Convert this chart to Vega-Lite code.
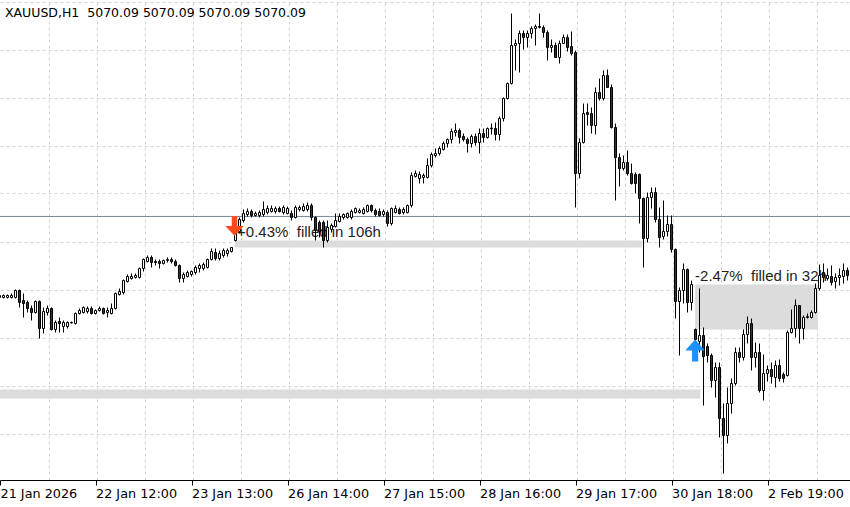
{
  "$schema": "https://vega.github.io/schema/vega-lite/v6.json",
  "width": 850,
  "height": 480,
  "autosize": "none",
  "padding": {"left": 0, "top": 0, "right": 0, "bottom": 27},
  "background": "#ffffff",
  "config": {"view": {"stroke": null}},
  "title": {"text": "XAUUSD,H1\u00a0 5070.09 5070.09 5070.09 5070.09", "anchor": "start", "frame": "group", "orient": "top", "offset": -16, "baseline": "alphabetic", "dx": 5, "dy": 13, "font": "DejaVu Sans", "fontSize": 12.5, "fontWeight": "normal", "color": "#000000"},
  "datasets": {
    "bars": [
      {"i":-1,"o":4867.5,"h":4875,"l":4865,"c":4872.5},
      {"i":0,"o":4867.5,"h":4875,"l":4865,"c":4872.5},
      {"i":1,"o":4867.5,"h":4875,"l":4865,"c":4872.5},
      {"i":2,"o":4867.5,"h":4877.5,"l":4865,"c":4872.5},
      {"i":3,"o":4867.5,"h":4887.5,"l":4865,"c":4885},
      {"i":4,"o":4885,"h":4887.5,"l":4842.5,"c":4855},
      {"i":5,"o":4860,"h":4877.5,"l":4817.5,"c":4852.5},
      {"i":6,"o":4855,"h":4860,"l":4830,"c":4840},
      {"i":7,"o":4840,"h":4847.5,"l":4810,"c":4830},
      {"i":8,"o":4830,"h":4860,"l":4827.5,"c":4857.5},
      {"i":9,"o":4857.5,"h":4860,"l":4765,"c":4790},
      {"i":10,"o":4790,"h":4842.5,"l":4777.5,"c":4832.5},
      {"i":11,"o":4830,"h":4847.5,"l":4822.5,"c":4840},
      {"i":12,"o":4840,"h":4842.5,"l":4785,"c":4787.5},
      {"i":13,"o":4787.5,"h":4810,"l":4780,"c":4805},
      {"i":14,"o":4807.5,"h":4817.5,"l":4780,"c":4802.5},
      {"i":15,"o":4795,"h":4810,"l":4780,"c":4805},
      {"i":16,"o":4795,"h":4807.5,"l":4790,"c":4805},
      {"i":17,"o":4805,"h":4807.5,"l":4802.5,"c":4804},
      {"i":18,"o":4802.5,"h":4830,"l":4800,"c":4827.5},
      {"i":19,"o":4827.5,"h":4840,"l":4825,"c":4835},
      {"i":20,"o":4830,"h":4845,"l":4827.5,"c":4842.5},
      {"i":21,"o":4832.5,"h":4845,"l":4827.5,"c":4840},
      {"i":22,"o":4840,"h":4845,"l":4825,"c":4827.5},
      {"i":23,"o":4827.5,"h":4837.5,"l":4825,"c":4835},
      {"i":24,"o":4835,"h":4845,"l":4832.5,"c":4840},
      {"i":25,"o":4840,"h":4842.5,"l":4825,"c":4827.5},
      {"i":26,"o":4830,"h":4842.5,"l":4817.5,"c":4835},
      {"i":27,"o":4827.5,"h":4852.5,"l":4825,"c":4840},
      {"i":28,"o":4840,"h":4880,"l":4837.5,"c":4877.5},
      {"i":29,"o":4875,"h":4890,"l":4872.5,"c":4882.5},
      {"i":30,"o":4880,"h":4912.5,"l":4875,"c":4910},
      {"i":31,"o":4907.5,"h":4925,"l":4905,"c":4920},
      {"i":32,"o":4915,"h":4927.5,"l":4912.5,"c":4920},
      {"i":33,"o":4917.5,"h":4927.5,"l":4915,"c":4922.5},
      {"i":34,"o":4917.5,"h":4942.5,"l":4915,"c":4940},
      {"i":35,"o":4940,"h":4965,"l":4932.5,"c":4962.5},
      {"i":36,"o":4957.5,"h":4972.5,"l":4955,"c":4967.5},
      {"i":37,"o":4967.5,"h":4972.5,"l":4942.5,"c":4955},
      {"i":38,"o":4957.5,"h":4962.5,"l":4947.5,"c":4955},
      {"i":39,"o":4957.5,"h":4962.5,"l":4940,"c":4952.5},
      {"i":40,"o":4952.5,"h":4962.5,"l":4950,"c":4960},
      {"i":41,"o":4960,"h":4967.5,"l":4955,"c":4962.5},
      {"i":42,"o":4962.5,"h":4967.5,"l":4952.5,"c":4957.5},
      {"i":43,"o":4957.5,"h":4962.5,"l":4945,"c":4947.5},
      {"i":44,"o":4947.5,"h":4950,"l":4905,"c":4915},
      {"i":45,"o":4915,"h":4930,"l":4905,"c":4925},
      {"i":46,"o":4920,"h":4935,"l":4917.5,"c":4930},
      {"i":47,"o":4925,"h":4935,"l":4920,"c":4932.5},
      {"i":48,"o":4930,"h":4947.5,"l":4925,"c":4942.5},
      {"i":49,"o":4940,"h":4952.5,"l":4930,"c":4947.5},
      {"i":50,"o":4940,"h":4955,"l":4935,"c":4950},
      {"i":51,"o":4942.5,"h":4965,"l":4940,"c":4962.5},
      {"i":52,"o":4962.5,"h":4990,"l":4960,"c":4982.5},
      {"i":53,"o":4980,"h":4990,"l":4960,"c":4965},
      {"i":54,"o":4965,"h":4985,"l":4960,"c":4977.5},
      {"i":55,"o":4972.5,"h":4990,"l":4967.5,"c":4985},
      {"i":56,"o":4977.5,"h":4990,"l":4970,"c":4985},
      {"i":57,"o":4982.5,"h":4992.5,"l":4980,"c":4992.5},
      {"i":58,"o":5010,"h":5035,"l":5007.5,"c":5030},
      {"i":59,"o":5032.5,"h":5067.5,"l":5027.5,"c":5062.5},
      {"i":60,"o":5060,"h":5087.5,"l":5055,"c":5077.5},
      {"i":61,"o":5075,"h":5090,"l":5070,"c":5082.5},
      {"i":62,"o":5082.5,"h":5087.5,"l":5067.5,"c":5072.5},
      {"i":63,"o":5072.5,"h":5082.5,"l":5070,"c":5077.5},
      {"i":64,"o":5072.5,"h":5085,"l":5067.5,"c":5080},
      {"i":65,"o":5075,"h":5107.5,"l":5070,"c":5087.5},
      {"i":66,"o":5080,"h":5097.5,"l":5075,"c":5090},
      {"i":67,"o":5082.5,"h":5097.5,"l":5080,"c":5090},
      {"i":68,"o":5082.5,"h":5095,"l":5077.5,"c":5090},
      {"i":69,"o":5090,"h":5095,"l":5080,"c":5082.5},
      {"i":70,"o":5080,"h":5097.5,"l":5075,"c":5092.5},
      {"i":71,"o":5077.5,"h":5095,"l":5075,"c":5090},
      {"i":72,"o":5077.5,"h":5085,"l":5060,"c":5067.5},
      {"i":73,"o":5067.5,"h":5097.5,"l":5065,"c":5092.5},
      {"i":74,"o":5087.5,"h":5097.5,"l":5082.5,"c":5092.5},
      {"i":75,"o":5085,"h":5102.5,"l":5082.5,"c":5095},
      {"i":76,"o":5087.5,"h":5105,"l":5082.5,"c":5097.5},
      {"i":77,"o":5097.5,"h":5102.5,"l":5060,"c":5067.5},
      {"i":78,"o":5067.5,"h":5070,"l":5010,"c":5035},
      {"i":79,"o":5055,"h":5060,"l":5017.5,"c":5032.5},
      {"i":80,"o":5055,"h":5060,"l":4992.5,"c":5010},
      {"i":81,"o":5010,"h":5060,"l":5005,"c":5042.5},
      {"i":82,"o":5037.5,"h":5052.5,"l":5030,"c":5047.5},
      {"i":83,"o":5045,"h":5077.5,"l":5042.5,"c":5060},
      {"i":84,"o":5057.5,"h":5077.5,"l":5055,"c":5070},
      {"i":85,"o":5067.5,"h":5077.5,"l":5062.5,"c":5075},
      {"i":86,"o":5067.5,"h":5080,"l":5065,"c":5077.5},
      {"i":87,"o":5067.5,"h":5087.5,"l":5062.5,"c":5082.5},
      {"i":88,"o":5080,"h":5092.5,"l":5077.5,"c":5090},
      {"i":89,"o":5080,"h":5090,"l":5077.5,"c":5085},
      {"i":90,"o":5077.5,"h":5092.5,"l":5075,"c":5087.5},
      {"i":91,"o":5082.5,"h":5100,"l":5080,"c":5097.5},
      {"i":92,"o":5097.5,"h":5100,"l":5080,"c":5085},
      {"i":93,"o":5085,"h":5090,"l":5070,"c":5075},
      {"i":94,"o":5082.5,"h":5090,"l":5070,"c":5072.5},
      {"i":95,"o":5075,"h":5087.5,"l":5070,"c":5082.5},
      {"i":96,"o":5080,"h":5085,"l":5045,"c":5052.5},
      {"i":97,"o":5052.5,"h":5092.5,"l":5047.5,"c":5090},
      {"i":98,"o":5080,"h":5097.5,"l":5077.5,"c":5090},
      {"i":99,"o":5087.5,"h":5092.5,"l":5075,"c":5077.5},
      {"i":100,"o":5080,"h":5092.5,"l":5075,"c":5087.5},
      {"i":101,"o":5080,"h":5100,"l":5077.5,"c":5097.5},
      {"i":102,"o":5097.5,"h":5180,"l":5092.5,"c":5172.5},
      {"i":103,"o":5170,"h":5185,"l":5167.5,"c":5177.5},
      {"i":104,"o":5165,"h":5182.5,"l":5152.5,"c":5175},
      {"i":105,"o":5167.5,"h":5177.5,"l":5152.5,"c":5172.5},
      {"i":106,"o":5167.5,"h":5215,"l":5165,"c":5197.5},
      {"i":107,"o":5197.5,"h":5230,"l":5192.5,"c":5225},
      {"i":108,"o":5222.5,"h":5240,"l":5217.5,"c":5227.5},
      {"i":109,"o":5227.5,"h":5245,"l":5222.5,"c":5240},
      {"i":110,"o":5237.5,"h":5257.5,"l":5235,"c":5252.5},
      {"i":111,"o":5252.5,"h":5265,"l":5242.5,"c":5262.5},
      {"i":112,"o":5262.5,"h":5290,"l":5252.5,"c":5282.5},
      {"i":113,"o":5280,"h":5302.5,"l":5270,"c":5285},
      {"i":114,"o":5285,"h":5290,"l":5252.5,"c":5267.5},
      {"i":115,"o":5270,"h":5277.5,"l":5257.5,"c":5262.5},
      {"i":116,"o":5262.5,"h":5267.5,"l":5230,"c":5252.5},
      {"i":117,"o":5252.5,"h":5275,"l":5242.5,"c":5270},
      {"i":118,"o":5270,"h":5277.5,"l":5247.5,"c":5255},
      {"i":119,"o":5255,"h":5290,"l":5227.5,"c":5277.5},
      {"i":120,"o":5277.5,"h":5290,"l":5255,"c":5267.5},
      {"i":121,"o":5267.5,"h":5292.5,"l":5265,"c":5290},
      {"i":122,"o":5289,"h":5302.5,"l":5275,"c":5291},
      {"i":123,"o":5290,"h":5305,"l":5260,"c":5275},
      {"i":124,"o":5275,"h":5320,"l":5260,"c":5315},
      {"i":125,"o":5315,"h":5367.5,"l":5307.5,"c":5365},
      {"i":126,"o":5365,"h":5405,"l":5362.5,"c":5402.5},
      {"i":127,"o":5402.5,"h":5577.5,"l":5400,"c":5497.5},
      {"i":128,"o":5497.5,"h":5512.5,"l":5435,"c":5502.5},
      {"i":129,"o":5502.5,"h":5535,"l":5430,"c":5527.5},
      {"i":130,"o":5527.5,"h":5535,"l":5487.5,"c":5517.5},
      {"i":131,"o":5517.5,"h":5535,"l":5492.5,"c":5527.5},
      {"i":132,"o":5527.5,"h":5545,"l":5515,"c":5540},
      {"i":133,"o":5540,"h":5550,"l":5497.5,"c":5545},
      {"i":134,"o":5542.5,"h":5577.5,"l":5540,"c":5545},
      {"i":135,"o":5542.5,"h":5547.5,"l":5517.5,"c":5530},
      {"i":136,"o":5530,"h":5535,"l":5460,"c":5492.5},
      {"i":137,"o":5492.5,"h":5512.5,"l":5480,"c":5497.5},
      {"i":138,"o":5497.5,"h":5505,"l":5467.5,"c":5467.5},
      {"i":139,"o":5467.5,"h":5510,"l":5452.5,"c":5502.5},
      {"i":140,"o":5502.5,"h":5525,"l":5502.5,"c":5517.5},
      {"i":141,"o":5517.5,"h":5525,"l":5482.5,"c":5492.5},
      {"i":142,"o":5495,"h":5532.5,"l":5472.5,"c":5477.5},
      {"i":143,"o":5480,"h":5485,"l":5092.5,"c":5177.5},
      {"i":144,"o":5177.5,"h":5265,"l":5165,"c":5255},
      {"i":145,"o":5255,"h":5352.5,"l":5252.5,"c":5327.5},
      {"i":146,"o":5330,"h":5352.5,"l":5297.5,"c":5325},
      {"i":147,"o":5327.5,"h":5342.5,"l":5277.5,"c":5297.5},
      {"i":148,"o":5297.5,"h":5392.5,"l":5275,"c":5380},
      {"i":149,"o":5380,"h":5415,"l":5360,"c":5365},
      {"i":150,"o":5365,"h":5435,"l":5360,"c":5422.5},
      {"i":151,"o":5422.5,"h":5437.5,"l":5392.5,"c":5392.5},
      {"i":152,"o":5392.5,"h":5400,"l":5290,"c":5292.5},
      {"i":153,"o":5292.5,"h":5302.5,"l":5110,"c":5217.5},
      {"i":154,"o":5217.5,"h":5227.5,"l":5145,"c":5190},
      {"i":155,"o":5190,"h":5222.5,"l":5185,"c":5205},
      {"i":156,"o":5205,"h":5235,"l":5172.5,"c":5177.5},
      {"i":157,"o":5177.5,"h":5202.5,"l":5150,"c":5152.5},
      {"i":158,"o":5175,"h":5180,"l":5127.5,"c":5152.5},
      {"i":159,"o":5175,"h":5177.5,"l":5052.5,"c":5115},
      {"i":160,"o":5115,"h":5117.5,"l":4942.5,"c":5015},
      {"i":161,"o":5015,"h":5130,"l":5005,"c":5117.5},
      {"i":162,"o":5117.5,"h":5142.5,"l":5090,"c":5130},
      {"i":163,"o":5130,"h":5142.5,"l":5055,"c":5062.5},
      {"i":164,"o":5062.5,"h":5092.5,"l":4992.5,"c":5017.5},
      {"i":165,"o":5020,"h":5110,"l":5012.5,"c":5032.5},
      {"i":166,"o":5032.5,"h":5072.5,"l":5020,"c":5050},
      {"i":167,"o":5050,"h":5072.5,"l":4980,"c":4987.5},
      {"i":168,"o":4987.5,"h":4990,"l":4815,"c":4857.5},
      {"i":169,"o":4857.5,"h":4892.5,"l":4722.5,"c":4885},
      {"i":170,"o":4885,"h":4952.5,"l":4852.5,"c":4937.5},
      {"i":171,"o":4937.5,"h":4940,"l":4830,"c":4855},
      {"i":172,"o":4855,"h":4910,"l":4835,"c":4900},
      {"i":173,"o":4787.5,"h":4790,"l":4747.5,"c":4762.5},
      {"i":174,"o":4757.5,"h":4890,"l":4730,"c":4772.5},
      {"i":175,"o":4772.5,"h":4792.5,"l":4597.5,"c":4720},
      {"i":176,"o":4745,"h":4752.5,"l":4705,"c":4722.5},
      {"i":177,"o":4722.5,"h":4727.5,"l":4642.5,"c":4660},
      {"i":178,"o":4660,"h":4705,"l":4617.5,"c":4692.5},
      {"i":179,"o":4692.5,"h":4705,"l":4517.5,"c":4565},
      {"i":180,"o":4565,"h":4602.5,"l":4427.5,"c":4522.5},
      {"i":181,"o":4522.5,"h":4642.5,"l":4502.5,"c":4602.5},
      {"i":182,"o":4602.5,"h":4665,"l":4577.5,"c":4652.5},
      {"i":183,"o":4652.5,"h":4742.5,"l":4647.5,"c":4730},
      {"i":184,"o":4730,"h":4742.5,"l":4705,"c":4717.5},
      {"i":185,"o":4717.5,"h":4787.5,"l":4710,"c":4775},
      {"i":186,"o":4775,"h":4820,"l":4752.5,"c":4802.5},
      {"i":187,"o":4802.5,"h":4815,"l":4685,"c":4717.5},
      {"i":188,"o":4717.5,"h":4755,"l":4692.5,"c":4730},
      {"i":189,"o":4730,"h":4752.5,"l":4630,"c":4635},
      {"i":190,"o":4635,"h":4725,"l":4610,"c":4677.5},
      {"i":191,"o":4677.5,"h":4697.5,"l":4657.5,"c":4687.5},
      {"i":192,"o":4687.5,"h":4705,"l":4652.5,"c":4670},
      {"i":193,"o":4667.5,"h":4710,"l":4642.5,"c":4697.5},
      {"i":194,"o":4697.5,"h":4712.5,"l":4657.5,"c":4665},
      {"i":195,"o":4675,"h":4680,"l":4655,"c":4665},
      {"i":196,"o":4672.5,"h":4785,"l":4670,"c":4780},
      {"i":197,"o":4780,"h":4837.5,"l":4777.5,"c":4790},
      {"i":198,"o":4790,"h":4862.5,"l":4767.5,"c":4847.5},
      {"i":199,"o":4847.5,"h":4847.5,"l":4752.5,"c":4790},
      {"i":200,"o":4790,"h":4822.5,"l":4762.5,"c":4817.5},
      {"i":201,"o":4817.5,"h":4827.5,"l":4815,"c":4820},
      {"i":202,"o":4817.5,"h":4835,"l":4815,"c":4830},
      {"i":203,"o":4830,"h":4902.5,"l":4827.5,"c":4890},
      {"i":204,"o":4890,"h":4950,"l":4885,"c":4922.5},
      {"i":205,"o":4930,"h":4952.5,"l":4905,"c":4917.5},
      {"i":206,"o":4915,"h":4940,"l":4910,"c":4922.5},
      {"i":207,"o":4920,"h":4947.5,"l":4897.5,"c":4905},
      {"i":208,"o":4907.5,"h":4927.5,"l":4890,"c":4917.5},
      {"i":209,"o":4917.5,"h":4940,"l":4897.5,"c":4922.5},
      {"i":210,"o":4920,"h":4952.5,"l":4902.5,"c":4935},
      {"i":211,"o":4935,"h":4942.5,"l":4910,"c":4922.5}
    ],
    "bands": [
      {"i1": 57.9, "i2": 159.7, "p1": 5010, "p2": 4992.5},
      {"i1": -5, "i2": 174.2, "p1": 4637.5, "p2": 4615},
      {"i1": 172.9, "i2": 203.6, "p1": 4900, "p2": 4787.5}
    ],
    "labels": [
      {"i": 58.4, "p": 5020, "text": "+0.43%\u00a0 filled in 106h"},
      {"i": 172.9, "p": 4908.75, "text": "-2.47%\u00a0 filled in 32h"}
    ],
    "arrows": [
      {"i": 57.75, "p": 5046.25, "dir": "down"},
      {"i": 172.9, "p": 4735, "dir": "up"}
    ],
    "bid": [{"p": 5070.09}]
  },
  "resolve": {"axis": {"x": "independent", "y": "independent"}},
  "layer": [
    {
      "data": {"name": "bands"},
      "mark": {"type": "rect", "color": "#dcdcdc", "clip": true},
      "encoding": {
        "x": {"field": "i1", "type": "quantitative",
          "scale": {"domain": [-0.875, 211.625], "nice": false, "zero": false, "padding": 0},
          "axis": {"orient": "top", "grid": true, "values": [11.25, 23.25, 35.25, 47.25, 59.25, 71.25, 83.25, 95.25, 107.25, 119.25, 131.25, 143.25, 155.25, 167.25, 179.25, 191.25, 203.25], "labels": false, "ticks": false, "domain": false, "title": null, "gridColor": "#d4d4d4", "gridDash": [3, 3], "gridWidth": 1}},
        "x2": {"field": "i2"},
        "y": {"field": "p1", "type": "quantitative",
          "scale": {"domain": [4411.25, 5611.25], "nice": false, "zero": false, "padding": 0},
          "axis": {"orient": "left", "grid": true, "values": [5607.5, 5487.5, 5367.5, 5247.5, 5127.5, 5007.5, 4887.5, 4767.5, 4647.5, 4527.5], "labels": false, "ticks": false, "domain": false, "title": null, "gridColor": "#d4d4d4", "gridDash": [3, 3], "gridWidth": 1}},
        "y2": {"field": "p2"}
      }
    },
    {
      "data": {"name": "bid"},
      "mark": {"type": "rule", "color": "#778899", "strokeWidth": 1},
      "encoding": {
        "y": {"field": "p", "type": "quantitative", "axis": null}
      }
    },
    {
      "data": {"name": "labels"},
      "mark": {"type": "text", "align": "left", "baseline": "alphabetic", "font": "Liberation Sans", "fontSize": 15, "color": "#1e1e1e"},
      "encoding": {
        "x": {"field": "i", "type": "quantitative", "axis": null},
        "y": {"field": "p", "type": "quantitative", "axis": null},
        "text": {"field": "text"}
      }
    },
    {
      "data": {"name": "bars"},
      "mark": {"type": "rule", "color": "#000000", "strokeWidth": 1, "clip": true},
      "encoding": {
        "x": {"field": "i", "type": "quantitative", "axis": null},
        "y": {"field": "l", "type": "quantitative", "axis": null},
        "y2": {"field": "h"}
      }
    },
    {
      "data": {"name": "bars"},
      "mark": {"type": "bar", "size": 2, "stroke": "#000000", "strokeWidth": 1, "clip": true},
      "encoding": {
        "x": {"field": "i", "type": "quantitative",
          "axis": {"orient": "bottom", "values": [-0.875, 23, 47, 71, 95, 119, 143, 167, 191], "labelExpr": "datum.value < 0 ? '21 Jan 2026' : ['22 Jan 12:00','23 Jan 13:00','26 Jan 14:00','27 Jan 15:00','28 Jan 16:00','29 Jan 17:00','30 Jan 18:00','2 Feb 19:00'][round((datum.value - 23) / 24)]", "labelAlign": "left", "labelFont": "DejaVu Sans", "labelFontSize": 12.8, "labelColor": "#000000", "labelPadding": 2, "labelFlush": false, "labelOverlap": false, "labelBound": false, "tickColor": "#000000", "tickSize": 5, "domainColor": "#000000", "grid": false, "title": null}},
        "y": {"field": "o", "type": "quantitative", "axis": null},
        "y2": {"field": "c"},
        "fill": {"condition": {"test": "datum.c >= datum.o", "value": "#ffffff"}, "value": "#333333"}
      }
    },
    {
      "data": {"name": "arrows"},
      "mark": {"type": "point", "filled": true, "opacity": 1, "strokeWidth": 0},
      "encoding": {
        "x": {"field": "i", "type": "quantitative", "axis": null},
        "y": {"field": "p", "type": "quantitative", "axis": null},
        "shape": {"field": "dir", "type": "nominal", "legend": null,
          "scale": {"domain": ["down", "up"], "range": ["M-0.28,-1L0.28,-1L0.28,0L0.95,0L0,1L-0.95,0L-0.28,0Z", "M-0.28,1L0.28,1L0.28,0L0.9,0L0,-1L-0.9,0L-0.28,0Z"]}},
        "color": {"field": "dir", "type": "nominal", "legend": null,
          "scale": {"domain": ["down", "up"], "range": ["#ff4a1c", "#1e90ff"]}},
        "size": {"field": "dir", "type": "nominal", "legend": null,
          "scale": {"domain": ["down", "up"], "range": [380, 480]}}
      }
    }
  ]
}
